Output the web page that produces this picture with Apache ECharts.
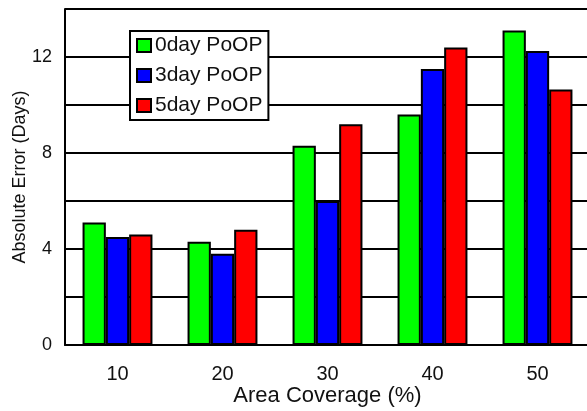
<!DOCTYPE html>
<html>
<head>
<meta charset="utf-8">
<script src="https://cdn.jsdelivr.net/npm/echarts@6/dist/echarts.min.js"></script>
<style>html,body{margin:0;padding:0;background:#fff;}#c{width:587px;height:411px;}</style>
</head>
<body>
<div id="c"></div>
<script>
const categories = ['10', '20', '30', '40', '50'];
const seriesNames = ['0day PoOP', '3day PoOP', '5day PoOP'];
const day0 = [5.1, 4.3, 8.3, 9.6, 13.1];
const day3 = [4.5, 3.8, 6.0, 11.5, 12.25];
const day5 = [4.6, 4.8, 9.2, 12.4, 10.65];
const yTicks = [0, 4, 8, 12];
const colors = ['#00ff00', '#0000ff', '#ff0000'];

const FONT = "'Liberation Sans', Arial, sans-serif";
const chart = echarts.init(document.getElementById('c'), null, {renderer: 'canvas'});
const mk = (name, data, color) => ({
  name, type: 'bar', data, barWidth: 23.3, barGap: '0%',
  itemStyle: {color, borderColor: '#000', borderWidth: 2},
  emphasis: {disabled: true}
});
chart.setOption({
  animation: false,
  backgroundColor: '#fff',
  textStyle: {fontFamily: FONT},
  grid: {left: 65, top: 9, width: 525, bottom: 66, containLabel: false, outerBoundsMode: 'none'},
  legend: {
    orient: 'vertical', left: 130, top: 31,
    padding: [4, 6, 4, 6], itemGap: 9,
    itemWidth: 14, itemHeight: 13, icon: 'rect',
    backgroundColor: '#fff', borderColor: '#000', borderWidth: 2,
    textStyle: {fontFamily: FONT, fontSize: 21, lineHeight: 20, color: '#111', padding: [0, 0, 0, -1]},
    itemStyle: {borderColor: '#000', borderWidth: 2},
    data: seriesNames
  },
  xAxis: {
    type: 'category', data: categories,
    name: 'Area Coverage (%)', nameLocation: 'middle', nameGap: 40, nameMoveOverlap: false,
    nameTextStyle: {fontFamily: FONT, fontSize: 22, color: '#111'},
    axisLine: {lineStyle: {color: '#000', width: 2}},
    axisTick: {show: false},
    axisLabel: {fontFamily: FONT, fontSize: 20, color: '#111', margin: 19}
  },
  yAxis: {
    type: 'value', min: 0, max: 14, interval: 2,
    name: 'Absolute Error (Days)', nameLocation: 'middle', nameGap: 36, nameMoveOverlap: false,
    nameTextStyle: {fontFamily: FONT, fontSize: 18, color: '#111'},
    axisLine: {show: true, lineStyle: {color: '#000', width: 2}},
    axisTick: {show: false},
    axisLabel: {fontFamily: FONT, fontSize: 18, color: '#111', margin: 13,
      formatter: v => yTicks.includes(v) ? String(v) : ''},
    splitLine: {show: true, lineStyle: {color: '#000', width: 2}}
  },
  series: [
    mk(seriesNames[0], day0, colors[0]),
    mk(seriesNames[1], day3, colors[1]),
    mk(seriesNames[2], day5, colors[2])
  ]
});
</script>
</body>
</html>
